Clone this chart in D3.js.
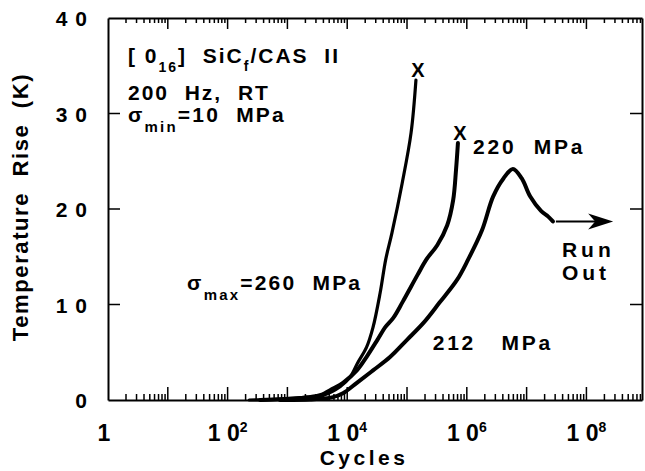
<!DOCTYPE html>
<html lang="en">
<head>
<meta charset="UTF-8"/>
<script src="https://d3js.org/d3.v7.min.js" charset="utf-8"></script>
<style>
    body { margin: 0; background: #fff; }
    text {
        font-family: "Liberation Sans", Arial, Helvetica, sans-serif;
        font-weight: bold;
        fill: #000;
        white-space: pre;
    }
    .axis path { stroke: #000; stroke-width: 2px; fill: none; }
    path.curve { fill: none; stroke: #000; stroke-linejoin: round; stroke-linecap: round; }
</style>
</head>
<body>
<svg id="chart" width="645" height="471"></svg>
<script>
    // values: cycles and temperature rise (K)
    var cycles260 = [2.3e2, 8.5e2, 2.1e3, 4.0e3, 7.6e3, 1.12e4, 1.5e4, 2.1e4, 2.7e4, 3.55e4, 4.4e4, 5.6e4, 8.3e4, 1.17e5, 1.41e5];
    var temp260 = [0, 0.1, 0.3, 0.5, 1.4, 2.4, 3.9, 5.5, 7.6, 11.2, 14.7, 17.5, 22.7, 28.0, 33.5];

    var cycles220 = [3.5e2, 1.6e3, 3.5e3, 5.8e3, 8.5e3, 1.45e4, 2.1e4, 3.2e4, 4.3e4, 5.9e4, 8.5e4, 1.5e5, 2.1e5, 3.2e5, 4.7e5, 5.9e5, 6.6e5, 7.1e5];
    var temp220 = [0, 0.2, 0.5, 1.2, 1.8, 3.1, 4.5, 6.3, 7.6, 8.6, 10.3, 13.1, 14.7, 16.2, 18.3, 20.9, 24.1, 26.9];

    var cycles212 = [7.5e2, 2.4e3, 5.8e3, 8.5e3, 1.45e4, 2.7e4, 5.2e4, 1.0e5, 1.9e5, 3.5e5, 6.9e5, 1.05e6, 1.8e6, 2.75e6, 4.1e6, 5.9e6, 8.3e6, 1.15e7, 1.74e7, 2.3e7, 2.75e7];
    var temp212 = [0, 0.05, 0.3, 0.7, 1.8, 3.1, 4.5, 6.3, 8.1, 10.2, 12.6, 14.7, 17.8, 21.3, 23.2, 24.2, 23.2, 21.3, 19.8, 19.2, 18.7];

    var runOutCycles = 2.8e8;

    var yTickValues = [0, 10, 20, 30, 40];
    var yTickLabels = ["0", "1 0", "2 0", "3 0", "4 0"];
    var xLabelExponents = [0, 2, 4, 6, 8];

    var margin = {top: 18, right: 3, bottom: 71, left: 108},
        width = 645 - margin.left - margin.right,
        height = 471 - margin.top - margin.bottom;

    var svg = d3.select("#chart")
        .append("g")
        .attr("transform", "translate(" + margin.left + "," + margin.top + ")");

    var x = d3.scaleLog().domain([1, 8.5e8]).range([0, width]);
    var y = d3.scaleLinear().domain([0, 40]).range([height, 0]);

    // tick positions for the log axis
    var majorTicks = d3.range(1, 9).map(function (e) { return Math.pow(10, e); });
    var minorTicks = [];
    d3.range(0, 9).forEach(function (e) {
        for (var k = 2; k <= 9; k++) {
            var v = k * Math.pow(10, e);
            if (v <= 8.5e8) minorTicks.push(v);
        }
    });

    // frame from the four axis lines
    svg.append("g").attr("class", "axis").attr("transform", "translate(0," + height + ")")
        .call(d3.axisBottom(x).tickValues([]).tickSizeOuter(0));
    svg.append("g").attr("class", "axis")
        .call(d3.axisTop(x).tickValues([]).tickSizeOuter(0));
    svg.append("g").attr("class", "axis")
        .call(d3.axisLeft(y).tickValues([]).tickSizeOuter(0));
    svg.append("g").attr("class", "axis").attr("transform", "translate(" + width + ",0)")
        .call(d3.axisRight(y).tickValues([]).tickSizeOuter(0));

    // y tick labels
    svg.selectAll(".ylab")
        .data(yTickValues)
        .enter()
        .append("text")
        .attr("class", "ylab")
        .attr("x", -20)
        .attr("y", function (d) { return y(d) + 8; })
        .attr("text-anchor", "end")
        .style("font-size", "21px")
        .style("letter-spacing", "1px")
        .text(function (d, i) { return yTickLabels[i]; });

    // x tick labels: 1, 1 0^2 ...
    xLabelExponents.forEach(function (e) {
        var t = svg.append("text")
            .attr("x", x(Math.pow(10, e)))
            .attr("y", height + 41)
            .attr("text-anchor", "middle")
            .style("font-size", "23px");
        if (e === 0) {
            t.attr("dx", -4).text("1");
        } else {
            t.append("tspan").text("1 0");
            t.append("tspan").attr("dy", -9).style("font-size", "14px").text(e);
        }
    });

    // axis titles
    svg.append("text")
        .attr("x", 256)
        .attr("y", height + 65)
        .attr("text-anchor", "middle")
        .style("font-size", "21px")
        .style("letter-spacing", "3.5px")
        .text("Cycles");

    svg.append("text")
        .attr("transform", "translate(-80," + (height / 2 - 2) + ")rotate(-90)")
        .attr("text-anchor", "middle")
        .style("font-size", "22px")
        .style("letter-spacing", "1.6px")
        .text("Temperature  Rise  (K)");

    // curves
    var line = d3.line()
        .x(function (d) { return x(d[0]); })
        .y(function (d) { return y(d[1]); })
        .curve(d3.curveCatmullRom.alpha(0.5));

    var series = [
        {n: cycles260, t: temp260, w: 3.2, fail: true},
        {n: cycles220, t: temp220, w: 4, fail: true},
        {n: cycles212, t: temp212, w: 4, fail: false}
    ];

    series.forEach(function (s) {
        var pts = s.n.map(function (v, i) { return [v, s.t[i]]; });
        svg.append("path")
            .attr("class", "curve")
            .attr("d", line(pts))
            .style("stroke-width", s.w);
        var last = pts[pts.length - 1];
        if (s.fail) {
            svg.append("text")
                .attr("x", x(last[0]) + 2)
                .attr("y", y(last[1]) - 3)
                .attr("text-anchor", "middle")
                .style("font-size", "20px")
                .text("X");
        }
    });

    // run-out arrow from the end of the 212 MPa curve
    var ax0 = x(cycles212[cycles212.length - 1]) + 3,
        ax1 = x(runOutCycles),
        ay = y(temp212[temp212.length - 1]);
    svg.append("line")
        .attr("x1", ax0).attr("y1", ay)
        .attr("x2", ax1 - 8).attr("y2", ay)
        .style("stroke", "#000").style("stroke-width", 2);
    svg.append("path")
        .attr("d", "M" + ax1 + "," + ay + "L" + (ax1 - 25) + "," + (ay - 8) +
            "L" + (ax1 - 18) + "," + ay + "L" + (ax1 - 25) + "," + (ay + 8) + "Z")
        .style("fill", "#000");

    // annotations
    function label(px, py, size, parts, spacing) {
        var t = svg.append("text")
            .attr("x", px).attr("y", py)
            .style("font-size", size + "px")
            .style("letter-spacing", (spacing || 1.5) + "px");
        parts.forEach(function (p) {
            var ts = t.append("tspan").text(p[0]);
            if (p[1]) ts.attr("dy", p[1]).style("font-size", p[2] + "px");
        });
        return t;
    }

    label(20, 45, 21, [["[ 0"], ["16", 9, 14], ["]", -9, 21], ["  SiC"], ["f", 8, 14], ["/CAS  II", -8, 21]], 2);
    label(20, 82, 21, [["200  Hz,  RT"]], 2);
    label(20, 104, 21, [["σ"], ["min", 10, 15], ["=10  MPa", -10, 21]], 2.2);

    label(x(21), y(11.5), 21, [["σ"], ["max", 10, 15], ["=260  MPa", -10, 21]], 2.2);
    label(x(1.27e6), y(25.8), 21, [["220  MPa"]], 2.8);
    label(x(2.7e5), y(5.2), 21, [["212   MPa"]], 2.7);
    label(x(3.9e7), y(15.0), 21, [["Run"]], 4);
    label(x(3.9e7), y(12.6), 21, [["Out"]], 4);

    // inward ticks, one path, drawn last
    var tp = d3.path();
    minorTicks.forEach(function (d) {
        tp.moveTo(x(d), height); tp.lineTo(x(d), height - 6);
        tp.moveTo(x(d), 0); tp.lineTo(x(d), 5);
    });
    majorTicks.forEach(function (d) {
        tp.moveTo(x(d), height); tp.lineTo(x(d), height - 13);
        tp.moveTo(x(d), 0); tp.lineTo(x(d), 11);
    });
    [10, 20, 30].forEach(function (d) {
        tp.moveTo(0, y(d)); tp.lineTo(12, y(d));
        tp.moveTo(width - 12, y(d)); tp.lineTo(width, y(d));
    });
    svg.append("path")
        .attr("d", tp.toString())
        .style("fill", "none")
        .style("stroke", "#000")
        .style("stroke-width", 1.5);
</script>
</body>
</html>
